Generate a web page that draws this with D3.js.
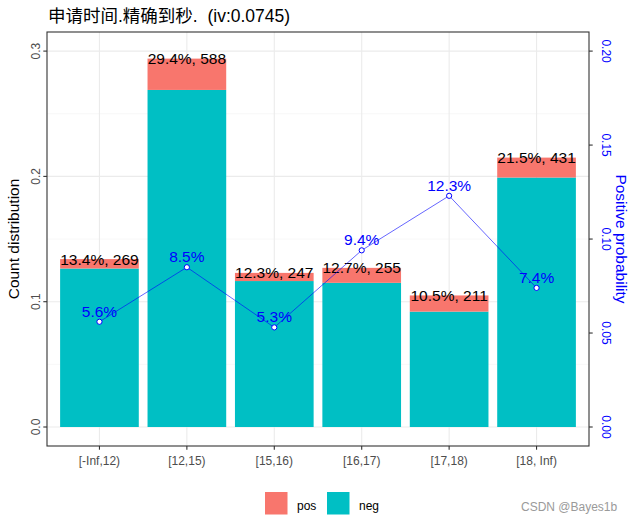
<!DOCTYPE html>
<html><head><meta charset="utf-8">
<script src="https://cdn.jsdelivr.net/npm/d3@7"></script>
<style>body{margin:0;background:#fff}text{font-family:"Liberation Sans",Arial,"Noto Sans CJK SC",sans-serif}</style>
</head><body><svg id="c" width="633" height="524"></svg>
<script>
const categories = ["[-Inf,12)","[12,15)","[15,16)","[16,17)","[17,18)","[18, Inf)"];
const countDistr = [0.134,0.294,0.123,0.127,0.105,0.215];
const counts = [269,588,247,255,211,431];
const posProb = [0.056,0.085,0.053,0.094,0.123,0.074];
const leftTicks = [0,0.1,0.2,0.3];
const minorTicks = [0.05,0.15,0.25];
const rightTicks = [0,0.05,0.1,0.15,0.2];
const seriesNames = ["pos","neg"];
const colors = {pos:"#F8766D", neg:"#00BFC4"};
const titleText = "申请时间.精确到秒.  (iv:0.0745)";

const svg = d3.select("#c");
const L=47,R=589,T=32,B=446;
const x = d3.scalePoint().domain(categories).range([L,R]).padding(0.6);
const y = d3.scaleLinear().domain([-0.01516,0.31524]).range([B,T]);
const ratio = 0.3/0.2;
const yR = d3.scaleLinear().domain([-0.01516/ratio,0.31524/ratio]).range([B,T]);
const bw = x.step()*0.9;

// grid
const g = svg.append("g");
g.selectAll(".mn").data(minorTicks).join("line").attr("x1",L).attr("x2",R)
 .attr("y1",d=>y(d)).attr("y2",d=>y(d)).attr("stroke","#F2F2F2").attr("stroke-width",0.6);
g.selectAll(".mj").data(leftTicks).join("line").attr("x1",L).attr("x2",R)
 .attr("y1",d=>y(d)).attr("y2",d=>y(d)).attr("stroke","#EBEBEB").attr("stroke-width",1.1);
g.selectAll(".vx").data(categories).join("line").attr("y1",T).attr("y2",B)
 .attr("x1",d=>x(d)).attr("x2",d=>x(d)).attr("stroke","#EBEBEB").attr("stroke-width",1.1);

// bars
const data = categories.map((c,i)=>({c, total:countDistr[i], neg:countDistr[i]*(1-posProb[i]), n:counts[i], p:posProb[i]}));
svg.selectAll(".neg").data(data).join("rect").attr("x",d=>x(d.c)-bw/2).attr("width",bw)
 .attr("y",d=>y(d.neg)).attr("height",d=>y(0)-y(d.neg)).attr("fill",colors.neg);
svg.selectAll(".pos").data(data).join("rect").attr("x",d=>x(d.c)-bw/2).attr("width",bw)
 .attr("y",d=>y(d.total)).attr("height",d=>y(d.neg)-y(d.total)).attr("fill",colors.pos);

// bar labels
svg.selectAll(".bl").data(data).join("text").attr("x",d=>x(d.c)).attr("y",d=>y(d.total)).attr("dy","0.36em")
 .attr("text-anchor","middle").attr("font-size",15.5).attr("fill","#000")
 .text(d=>(d.total*100).toFixed(1)+"%, "+d.n);

// line
const line = d3.line().x(d=>x(d.c)).y(d=>yR(d.p));
svg.append("path").datum(data).attr("d",line).attr("fill","none").attr("stroke","blue").attr("stroke-opacity",0.6).attr("stroke-width",1);
svg.selectAll(".pt").data(data).join("circle").attr("cx",d=>x(d.c)).attr("cy",d=>yR(d.p)).attr("r",2.6)
 .attr("fill","#fff").attr("stroke","blue").attr("stroke-width",1);
svg.selectAll(".pl").data(data).join("text").attr("x",d=>x(d.c)).attr("y",d=>yR(d.p)-5)
 .attr("text-anchor","middle").attr("font-size",15.5).attr("fill","blue")
 .text(d=>(d.p*100).toFixed(1)+"%");

// border
svg.append("rect").attr("x",L).attr("y",T).attr("width",R-L).attr("height",B-T).attr("fill","none").attr("stroke","#333").attr("stroke-width",1.1);

// left axis
const la = svg.append("g");
la.selectAll("line").data(leftTicks).join("line").attr("x1",L-3.7).attr("x2",L).attr("y1",d=>y(d)).attr("y2",d=>y(d)).attr("stroke","#333").attr("stroke-width",1.1);
la.selectAll("text").data(leftTicks).join("text").attr("transform",d=>`translate(40,${y(d)}) rotate(-90)`)
 .attr("text-anchor","middle").attr("font-size",12).attr("fill","#4D4D4D").text(d=>d3.format(".1f")(d));
svg.append("text").attr("transform",`translate(19,${(T+B)/2}) rotate(-90)`).attr("text-anchor","middle")
 .attr("font-size",15.5).attr("fill","#000").text("Count distribution");

// right axis
const ra = svg.append("g");
ra.selectAll("line").data(rightTicks).join("line").attr("x1",R).attr("x2",R+3.7).attr("y1",d=>yR(d)).attr("y2",d=>yR(d)).attr("stroke","#333").attr("stroke-width",1.1);
ra.selectAll("text").data(rightTicks).join("text").attr("transform",d=>`translate(602,${yR(d)}) rotate(90)`)
 .attr("text-anchor","middle").attr("font-size",12).attr("fill","blue").text(d=>d3.format(".2f")(d));
svg.append("text").attr("transform",`translate(616,${(T+B)/2}) rotate(90)`).attr("text-anchor","middle")
 .attr("font-size",15.5).attr("fill","blue").text("Positive probability");

// x axis
const xa = svg.append("g");
xa.selectAll("line").data(categories).join("line").attr("x1",d=>x(d)).attr("x2",d=>x(d)).attr("y1",B).attr("y2",B+3.7).attr("stroke","#333").attr("stroke-width",1.1);
xa.selectAll("text").data(categories).join("text").attr("x",d=>x(d)).attr("y",465)
 .attr("text-anchor","middle").attr("font-size",12).attr("fill","#4D4D4D").text(d=>d);

// title
svg.append("text").attr("x",48).attr("y",22).attr("font-size",17.5).attr("fill","#000")
 .style("white-space","pre").attr("xml:space","preserve").text(titleText);

// legend
const lg = svg.append("g");
seriesNames.forEach((s,i)=>{
  const lx = 265 + i*62;
  lg.append("rect").attr("x",lx).attr("y",492).attr("width",22.5).attr("height",22.5).attr("fill",colors[s]);
  lg.append("text").attr("x",lx+32).attr("y",509.5).attr("font-size",12).attr("fill","#000").text(s);
});
svg.append("text").attr("x",521).attr("y",511).attr("font-size",12).attr("fill","#9A9A9A").text("CSDN @Bayes1b");
</script></body></html>
